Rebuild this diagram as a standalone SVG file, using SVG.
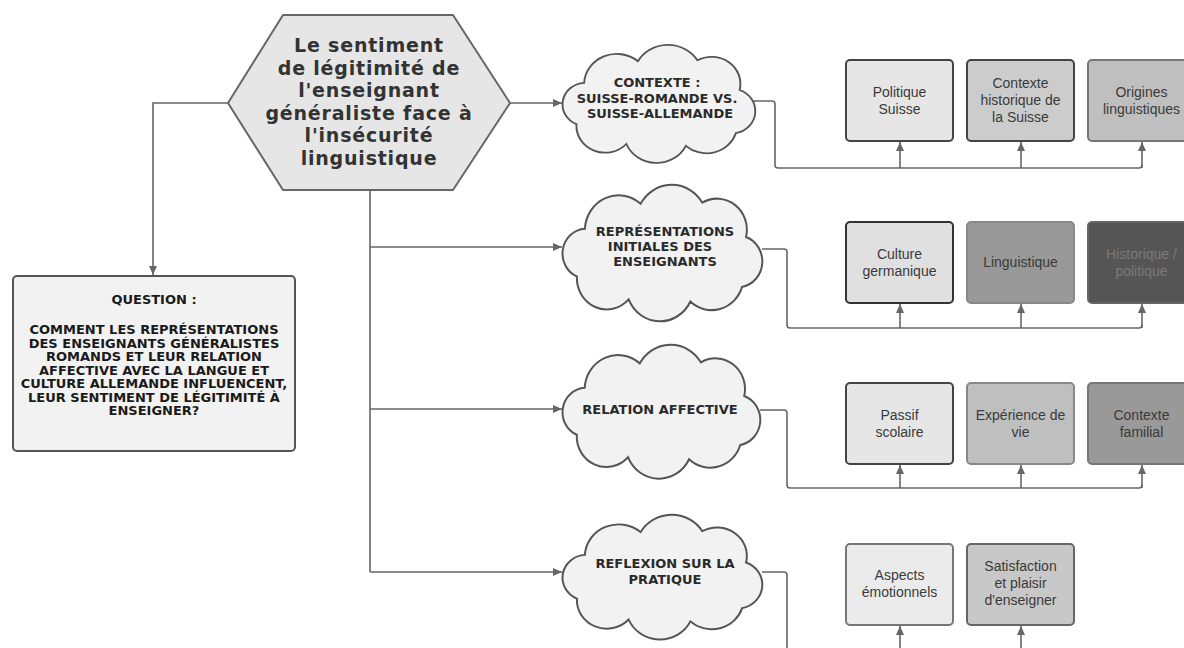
<svg xmlns="http://www.w3.org/2000/svg" width="1184" height="648" viewBox="0 0 1184 648">
<style>
.conn{fill:none;stroke:#666;stroke-width:1.6}
.cloud{fill:#f2f2f2;stroke:#555;stroke-width:2}
.ct{font-family:"DejaVu Sans",sans-serif;font-weight:bold;font-size:13px;fill:#2a2a2a;text-anchor:middle}
.qt{font-family:"DejaVu Sans",sans-serif;font-weight:bold;font-size:13px;fill:#1a1a1a;text-anchor:middle}
.ht{font-family:"DejaVu Sans",sans-serif;font-weight:bold;font-size:19px;letter-spacing:0.8px;fill:#333;text-anchor:middle}
.bt{font-family:"Liberation Sans",Arial,sans-serif;font-size:14px;fill:#3a3a3a;text-anchor:middle}
.box{stroke-width:2}
</style>
<defs>
<marker id="ah" markerWidth="10" markerHeight="10" refX="9" refY="5" orient="auto" markerUnits="userSpaceOnUse">
<path d="M0,1 L9,5 L0,9 Z" fill="#666"/>
</marker>
<path id="cloudp" d="M14,88 A24,24 0 0 1 22,42 A34,34 0 0 1 78,18 A36,36 0 0 1 140,17 A30,30 0 0 1 184,50 A25,25 0 0 1 180,98 A32,32 0 0 1 128,112 A34,34 0 0 1 66,110 A30,30 0 0 1 14,88 Z"/>
</defs>
<rect width="1184" height="648" fill="#ffffff"/>

<g id="connectors">
<path class="conn" d="M228,103 H153 V275" marker-end="url(#ah)"/>
<path class="conn" d="M510,103 H562" marker-end="url(#ah)"/>
<path class="conn" d="M370,190 V572"/>
<path class="conn" d="M370,247 H562" marker-end="url(#ah)"/>
<path class="conn" d="M370,409 H562" marker-end="url(#ah)"/>
<path class="conn" d="M370,572 H562" marker-end="url(#ah)"/>
<path class="conn" d="M753,101 H772 Q775,101 775,104 V165 Q775,168 778,168 H1139 Q1142,168 1142,165"/>
<path class="conn" d="M900,168 V142" marker-end="url(#ah)"/>
<path class="conn" d="M1021,168 V142" marker-end="url(#ah)"/>
<path class="conn" d="M1142,168 V142" marker-end="url(#ah)"/>
<path class="conn" d="M762,249 H784 Q787,249 787,252 V325 Q787,328 790,328 H1139 Q1142,328 1142,325"/>
<path class="conn" d="M900,328 V304" marker-end="url(#ah)"/>
<path class="conn" d="M1021,328 V304" marker-end="url(#ah)"/>
<path class="conn" d="M1142,328 V304" marker-end="url(#ah)"/>
<path class="conn" d="M760,410 H784 Q787,410 787,413 V485 Q787,488 790,488 H1139 Q1142,488 1142,485"/>
<path class="conn" d="M900,488 V465" marker-end="url(#ah)"/>
<path class="conn" d="M1021,488 V465" marker-end="url(#ah)"/>
<path class="conn" d="M1142,488 V465" marker-end="url(#ah)"/>
<path class="conn" d="M762,572 H784 Q787,572 787,575 V648"/>
<path class="conn" d="M900,648 V626" marker-end="url(#ah)"/>
<path class="conn" d="M1021,648 V626" marker-end="url(#ah)"/>
</g>

<g id="hexagon">
<polygon points="283,15 453,15 510,103 453,190 283,190 228,103" fill="#e6e6e6" stroke="#666" stroke-width="2" stroke-linejoin="round"/>
<text class="ht" x="369" y="52">Le sentiment</text>
<text class="ht" x="369" y="74.5">de légitimité de</text>
<text class="ht" x="369" y="97">l'enseignant</text>
<text class="ht" x="369" y="119.5">généraliste face à</text>
<text class="ht" x="369" y="142">l'insécurité</text>
<text class="ht" x="369" y="164.5">linguistique</text>
</g>

<g id="question">
<rect x="13" y="276" width="282" height="175" rx="4" fill="#f2f2f2" stroke="#555" stroke-width="2"/>
<text class="qt" x="154" y="304">QUESTION :</text>
<text class="qt" x="154" y="334">COMMENT LES REPRÉSENTATIONS</text>
<text class="qt" x="154" y="347.5">DES ENSEIGNANTS GÉNÉRALISTES</text>
<text class="qt" x="154" y="361">ROMANDS ET LEUR RELATION</text>
<text class="qt" x="154" y="374.5">AFFECTIVE AVEC LA LANGUE ET</text>
<text class="qt" x="154" y="388">CULTURE ALLEMANDE INFLUENCENT,</text>
<text class="qt" x="154" y="401.5">LEUR SENTIMENT DE LÉGITIMITÉ À</text>
<text class="qt" x="154" y="415">ENSEIGNER?</text>
</g>

<g id="cloud1">
<use href="#cloudp" class="cloud" transform="translate(563,45) scale(0.96,0.9)"/>
<text class="ct" x="657" y="87">CONTEXTE :</text>
<text class="ct" x="657" y="103">SUISSE-ROMANDE VS.</text>
<text class="ct" x="660" y="118">SUISSE-ALLEMANDE</text>
</g>

<g id="cloud2">
<use href="#cloudp" class="cloud" transform="translate(563,185) scale(0.995,1.04)"/>
<text class="ct" x="665" y="236">REPRÉSENTATIONS</text>
<text class="ct" x="660" y="251">INITIALES DES</text>
<text class="ct" x="665" y="266">ENSEIGNANTS</text>
</g>

<g id="cloud3">
<use href="#cloudp" class="cloud" transform="translate(563,345) scale(0.985,1.02)"/>
<text class="ct" x="660" y="414">RELATION AFFECTIVE</text>
</g>

<g id="cloud4">
<use href="#cloudp" class="cloud" transform="translate(563,515) scale(0.995,0.95)"/>
<text class="ct" x="665" y="568">REFLEXION SUR LA</text>
<text class="ct" x="665" y="584">PRATIQUE</text>
</g>

<g id="box-politique">
<rect class="box" x="846" y="60" width="107" height="81" rx="4" fill="#e6e6e6" stroke="#444"/>
<text class="bt" x="899.5" y="97">Politique</text>
<text class="bt" x="899.5" y="114">Suisse</text>
</g>
<g id="box-contexte-historique">
<rect class="box" x="967" y="60" width="107" height="81" rx="4" fill="#cccccc" stroke="#444"/>
<text class="bt" x="1020.5" y="88">Contexte</text>
<text class="bt" x="1020.5" y="105">historique de</text>
<text class="bt" x="1020.5" y="122">la Suisse</text>
</g>
<g id="box-origines">
<rect class="box" x="1088" y="60" width="107" height="81" rx="4" fill="#bfbfbf" stroke="#777"/>
<text class="bt" x="1141.5" y="97">Origines</text>
<text class="bt" x="1141.5" y="114">linguistiques</text>
</g>

<g id="box-culture">
<rect class="box" x="846" y="222" width="107" height="81" rx="4" fill="#e0e0e0" stroke="#333"/>
<text class="bt" x="899.5" y="259">Culture</text>
<text class="bt" x="899.5" y="276">germanique</text>
</g>
<g id="box-linguistique">
<rect class="box" x="967" y="222" width="107" height="81" rx="4" fill="#999999" stroke="#888"/>
<text class="bt" x="1020.5" y="267">Linguistique</text>
</g>
<g id="box-historique">
<rect class="box" x="1088" y="222" width="107" height="81" rx="4" fill="#555555" stroke="#666"/>
<text class="bt" x="1141.5" y="259" style="fill:#7a7a7a">Historique /</text>
<text class="bt" x="1141.5" y="276" style="fill:#7a7a7a">politique</text>
</g>

<g id="box-passif">
<rect class="box" x="846" y="383" width="107" height="81" rx="4" fill="#e6e6e6" stroke="#444"/>
<text class="bt" x="899.5" y="420">Passif</text>
<text class="bt" x="899.5" y="437">scolaire</text>
</g>
<g id="box-experience">
<rect class="box" x="967" y="383" width="107" height="81" rx="4" fill="#bfbfbf" stroke="#888"/>
<text class="bt" x="1020.5" y="420">Expérience de</text>
<text class="bt" x="1020.5" y="437">vie</text>
</g>
<g id="box-familial">
<rect class="box" x="1088" y="383" width="107" height="81" rx="4" fill="#999999" stroke="#777"/>
<text class="bt" x="1141.5" y="420">Contexte</text>
<text class="bt" x="1141.5" y="437">familial</text>
</g>

<g id="box-aspects">
<rect class="box" x="846" y="544" width="107" height="81" rx="4" fill="#ebebeb" stroke="#777"/>
<text class="bt" x="899.5" y="580">Aspects</text>
<text class="bt" x="899.5" y="597">émotionnels</text>
</g>
<g id="box-satisfaction">
<rect class="box" x="967" y="544" width="107" height="81" rx="4" fill="#c8c8c8" stroke="#666"/>
<text class="bt" x="1020.5" y="571">Satisfaction</text>
<text class="bt" x="1020.5" y="588">et plaisir</text>
<text class="bt" x="1020.5" y="605">d'enseigner</text>
</g>
</svg>
